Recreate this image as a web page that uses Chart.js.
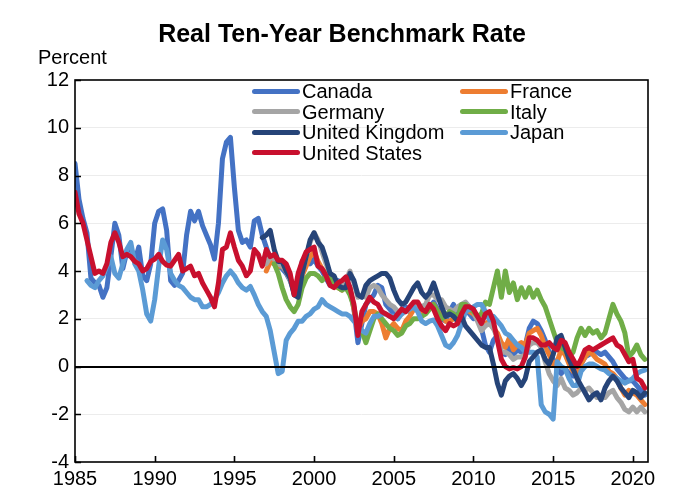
<!DOCTYPE html>
<html>
<head>
<meta charset="utf-8">
<script src="https://cdn.jsdelivr.net/npm/chart.js@4.4.0/dist/chart.umd.min.js"></script>
<style>
  html, body { margin: 0; padding: 0; background: #fff; }
  #wrap { position: relative; width: 697px; height: 489px; font-family: "Liberation Sans", Arial, sans-serif; color: #000; }
  #chart { position: absolute; left: 0; top: 0; }
  #title { position: absolute; left: 0; width: 684px; top: 19px; text-align: center; font-weight: bold; font-size: 25px; line-height: 28px; }
  #unit { position: absolute; left: 38px; top: 46px; font-size: 20px; line-height: 22px; }
  .lg-line { position: absolute; width: 48px; height: 5px; border-radius: 2.5px; }
  .lg-text { position: absolute; font-size: 20px; line-height: 20px; white-space: nowrap; }
</style>
</head>
<body>
<div id="wrap">
  <canvas id="chart" width="697" height="489"></canvas>
  <div id="title">Real Ten-Year Benchmark Rate</div>
  <div id="unit">Percent</div>
  <div id="legend"></div>
</div>
<script>
// ---- Data (quarterly readings, percent) ----
const seriesNames = ["Canada", "France", "Germany", "Italy", "United Kingdom", "Japan", "United States"];
const seriesStart = [1985.0, 1997.0, 1997.0, 1997.5, 1996.75, 1985.75, 1985.0];

const canada = [
  8.5, 7.0, 6.2, 5.6,   3.7, 3.5, 3.4, 2.9,   3.3, 4.6, 6.0, 5.5,   4.1, 4.8, 5.0, 4.4,
  5.0, 3.8, 3.6, 4.3,   6.0, 6.5, 6.6, 5.7,   3.6, 3.4, 3.6, 3.9,   5.5, 6.5, 6.1, 6.5,
  5.9, 5.5, 5.1, 4.5,   6.0, 8.7, 9.4, 9.6,   7.5, 5.7, 5.2, 5.3,   5.0, 6.1, 6.2, 5.5,
  5.0, 4.5, 4.3, 4.2,   4.1, 3.9, 3.6, 3.1,   3.6, 4.4, 4.6, 4.3,   4.5, 4.2, 4.0, 3.7,
  3.4, 3.5, 3.6, 3.5,   3.7, 3.3, 2.4, 1.0,   1.8, 2.6, 2.8, 3.0,   3.4, 3.3, 2.6, 2.4,
  2.2, 2.0, 2.3, 2.5,   2.3, 2.6, 2.4, 2.2,   2.3, 2.5, 2.7, 2.4,   2.0, 1.9, 2.3, 2.6,
  2.0, 2.4, 2.6, 2.2,   2.0, 2.1, 1.6, 0.9,   0.6, 1.1, 1.3, 0.6,   0.5, 0.8, 0.5, 0.7,
  0.6, 0.9, 1.6, 1.9,   1.8, 1.5, 1.1, 0.6,   0.3, -0.1, -0.3, -0.1, -0.3, -0.4, -0.1, 0.1,
  0.4, 0.5, 0.7, 0.6,   0.5, 0.6, 0.4, 0.2,   -0.1, -0.3, -0.5, -0.6, -0.6, -0.8, -1.0, -1.2
];
const france = [
  4.0, 4.4, 4.3, 4.2,   4.2, 4.0, 3.7, 3.3,   3.3, 3.8, 4.2, 4.6,   4.8, 4.4, 4.1, 3.9,
  3.6, 3.5, 3.3, 3.2,   3.4, 3.3, 2.4, 1.5,   1.9, 2.0, 2.3, 2.3,   2.2, 1.8, 1.2, 1.6,
  1.8, 1.6, 1.5, 1.9,   2.1, 2.4, 2.4, 2.2,   2.3, 2.5, 2.6, 2.3,   2.2, 1.9, 1.9, 2.0,
  2.0, 2.3, 2.4, 2.3,   2.2, 2.0, 1.8, 1.8,   1.9, 1.6, 1.4, 1.0,   0.8, 1.2, 0.7, 0.9,
  1.0, 0.9, 1.4, 1.5,   1.6, 1.3, 0.8, 0.5,   0.1, 0.2, 0.7, 0.5,   0.1, -0.2, -0.3, 0.1,
  0.4, 0.6, 0.5, 0.3,   0.2, 0.1, -0.2, -0.3, -0.5, -0.9, -1.2, -1.0, -1.1, -1.2, -1.4, -1.6
];
const germany = [
  4.3, 4.6, 4.5, 4.3,   4.2, 4.0, 3.6, 3.2,   3.1, 3.9, 4.6, 5.2,   5.6, 5.3, 4.8, 4.3,
  3.9, 3.7, 3.5, 3.4,   3.6, 4.0, 3.5, 2.9,   3.0, 2.9, 3.3, 3.4,   3.3, 3.0, 2.8, 2.6,
  2.5, 2.3, 2.2, 2.3,   2.4, 2.6, 2.6, 2.5,   2.6, 3.0, 3.0, 2.8,   2.8, 2.5, 2.4, 2.3,
  2.5, 2.6, 2.7, 2.5,   2.3, 1.9, 1.5, 1.7,   1.8, 1.6, 1.2, 0.6,   0.6, 0.5, 0.3, 0.4,
  0.4, 0.5, 0.9, 1.0,   1.0, 0.8, 0.2, -0.3,  -0.6, -0.8, -0.5, -0.9, -1.0, -1.2, -1.1, -0.9,
  -1.0, -0.9, -1.1, -1.3, -1.2, -1.3, -1.1, -1.0, -1.3, -1.5, -1.8, -1.9, -1.7, -1.9, -1.7, -1.9
];
const italy = [
  4.3, 3.9,             3.3, 2.8, 2.5, 2.3,   2.6, 3.3, 3.7, 3.9,   3.9, 3.8, 3.6, 3.8,
  3.7, 3.5, 3.3, 3.2,   3.3, 3.0, 2.5, 1.6,   1.5, 1.0, 1.5, 2.0,   2.2, 2.0, 1.8, 1.6,
  1.5, 1.3, 1.4, 1.7,   1.8, 2.0, 2.0, 2.1,   2.2, 2.4, 2.6, 2.3,   2.0, 2.1, 2.3, 2.2,
  2.0, 2.6, 2.6, 2.4,   2.3, 2.1, 2.2, 2.7,   2.6, 3.3, 4.0, 2.9,   4.0, 3.1, 3.5, 2.8,
  3.3, 2.9, 3.3, 2.9,   3.2, 2.8, 2.5, 2.0,   1.5, 1.0, 0.8, 0.7,   0.4, 0.6, 1.2, 1.6,
  1.3, 1.6, 1.4, 1.5,   1.2, 1.4, 2.0, 2.6,   2.2, 1.9, 1.4, 0.4,   0.6, 0.9, 0.5, 0.3
];
const unitedKingdom = [
  5.4,
  5.5, 5.7, 4.9, 4.4,   4.4, 4.0, 3.7, 3.0,   2.9, 3.9, 4.6, 5.3,   5.6, 5.2, 5.0, 4.5,
  3.9, 3.8, 3.4, 3.3,   3.3, 3.9, 3.6, 3.0,   2.9, 3.4, 3.6, 3.7,   3.8, 3.9, 3.9, 3.7,
  3.2, 2.8, 2.6, 2.7,   3.0, 3.3, 3.5, 3.1,   2.9, 3.1, 3.5, 3.0,   2.5, 2.1, 2.2, 2.1,
  1.9, 2.1, 1.7, 1.5,   1.3, 1.1, 0.9, 0.8,   0.8, 0.1, -0.7, -1.2, -0.6, -0.4, -0.3, -0.5,
  -0.8, -0.5, 0.2, 0.4, 0.6, 0.7, 0.3, 0.1,   0.5, 1.2, 1.3, 0.8,   0.3, -0.1, -0.5, -0.8,
  -1.1, -1.4, -1.2, -1.1, -1.4, -0.9, -0.6, -0.4, -0.6, -0.9, -1.1, -1.3, -1.0, -1.1, -1.3, -1.1
];
const japan = [
  3.6,
  3.4, 3.3, 3.6, 3.8,   4.2, 4.6, 3.9, 3.7,   4.3, 4.9, 5.2, 4.3,   4.0, 3.2, 2.2, 1.9,
  2.8, 4.2, 5.3, 4.9,   3.9, 3.6, 3.4, 3.3,   3.1, 2.9, 2.8, 2.8,   2.5, 2.5, 2.6, 2.8,
  3.1, 3.5, 3.8, 4.0,   3.8, 3.5, 3.3, 3.2,   3.35, 3.0, 2.6, 2.3,  2.1, 1.5, 0.6, -0.3,
  -0.2, 1.1, 1.4, 1.6,  1.9, 1.9, 2.1, 2.2,   2.4, 2.5, 2.8, 2.6,   2.5, 2.4, 2.3, 2.2,
  2.2, 2.1, 1.9, 1.7,   1.5, 1.4, 1.8, 2.1,   2.1, 2.2, 2.2, 2.1,   2.1, 2.0, 2.2, 2.4,
  2.4, 2.5, 2.3, 1.9,   1.8, 1.9, 1.95, 1.7,  1.3, 0.9, 0.8, 1.0,   1.3, 1.8, 2.3, 2.4,
  2.5, 2.6, 2.6, 2.3,   1.95, 2.1, 1.9, 1.7,  1.4, 1.3, 1.1, 0.9,   0.8, 0.6, 0.6, 0.6,
  0.4, -1.6, -1.9, -2.0, -2.2, 0.2, 0.0, -0.1, -0.5, -0.8, -0.8, -0.2, 0.0, 0.1, 0.1, 0.0,
  -0.1, -0.15, -0.3, -0.4, -0.5, -0.6, -0.7, -0.6, -0.5, -0.3, -0.2, -0.15
];
const unitedStates = [
  7.3, 6.4, 6.0, 5.3,   4.6, 3.9, 4.0, 3.9,   4.3, 5.2, 5.6, 5.2,   4.6, 4.7, 4.6, 4.4,
  4.3, 4.0, 4.1, 4.4,   4.5, 4.7, 4.4, 4.25,  4.2, 4.45, 4.7, 4.0,  4.1, 4.2, 3.8, 3.9,
  3.5, 3.2, 2.9, 2.5,   3.5, 4.9, 5.0, 5.6,   5.0, 4.45, 4.2, 3.8,  4.0, 4.9, 4.7, 4.2,
  4.9, 4.6, 4.7, 4.45,  4.45, 4.3, 3.9, 3.0,  3.9, 4.4, 4.8, 4.9,   5.0, 4.2, 4.1, 3.8,
  3.4, 3.3, 3.5, 3.6,   3.75, 3.3, 2.6, 1.3,  2.3, 2.6, 2.9, 2.7,   2.6, 2.3, 2.2, 2.1,
  2.0, 2.2, 2.4, 2.3,   2.5, 2.7, 2.7, 2.4,   2.3, 2.6, 2.4, 2.0,   1.7, 1.5, 1.8, 1.7,
  1.8, 2.2, 2.5, 2.5,   2.4, 2.1, 1.8, 2.2,   2.3, 1.9, 1.1, 0.3,   0.0, -0.1, -0.05, -0.1,
  0.0, 0.4, 1.2, 1.2,   1.1, 0.9, 0.9, 1.0,   0.8, 0.7, 1.1, 1.0,   0.6, 0.3, 0.0, 0.3,
  0.7, 0.8, 0.7, 0.8,   0.9, 1.0, 1.1, 1.2,   0.9, 0.8, 0.5, 0.2,   0.3, -0.5, -0.6, -0.9
];

const seriesValues = [canada, france, germany, italy, unitedKingdom, japan, unitedStates];
const seriesColors = ["#4472C4", "#ED7D31", "#A5A5A5", "#70AD47", "#264478", "#5B9BD5", "#C8102E"];
const drawOrder   = [6, 5, 4, 3, 1, 2, 0];   // lower = drawn on top

const xTicks = [1985, 1990, 1995, 2000, 2005, 2010, 2015, 2020];
const yTicks = [-4, -2, 0, 2, 4, 6, 8, 10, 12];

// ---- Build datasets ----
const datasets = seriesNames.map((name, k) => ({
  label: name,
  data: seriesValues[k].map((v, i) => ({ x: seriesStart[k] + i * 0.25, y: v })),
  borderColor: seriesColors[k],
  backgroundColor: seriesColors[k],
  borderWidth: 5,
  pointRadius: 0,
  tension: 0,
  fill: false,
  borderJoinStyle: "round",
  borderCapStyle: "round",
  order: drawOrder[k]
}));

// ---- Frame, inside ticks and zero line ----
const framePlugin = {
  id: "frame",
  afterDatasetsDraw(chart) {
    const { ctx, chartArea: a, scales: { x, y } } = chart;
    ctx.save();
    ctx.strokeStyle = "#000";
    ctx.lineWidth = 2;
    const y0 = Math.round(y.getPixelForValue(0));
    ctx.beginPath(); ctx.moveTo(a.left, y0); ctx.lineTo(a.right, y0); ctx.stroke();
    ctx.lineWidth = 1.6;
    ctx.strokeRect(a.left, a.top, a.right - a.left, a.bottom - a.top);
    ctx.beginPath();
    xTicks.forEach(v => {
      const px = Math.round(x.getPixelForValue(v)) + 0.5;
      ctx.moveTo(px, a.bottom); ctx.lineTo(px, a.bottom - 6);
    });
    yTicks.forEach(v => {
      const py = Math.round(y.getPixelForValue(v)) + 0.5;
      ctx.moveTo(a.left, py); ctx.lineTo(a.left + 6, py);
    });
    ctx.stroke();
    ctx.restore();
  }
};

const FONT = "'Liberation Sans', Arial, sans-serif";

new Chart(document.getElementById("chart"), {
  type: "line",
  data: { datasets },
  options: {
    responsive: false,
    animation: false,
    devicePixelRatio: 1,
    layout: { padding: { top: 80, right: 49, bottom: 0, left: 0 } },
    plugins: { legend: { display: false }, tooltip: { enabled: false }, title: { display: false } },
    scales: {
      x: {
        type: "linear",
        min: 1985, max: 2020.95,
        afterBuildTicks: s => { s.ticks = xTicks.map(v => ({ value: v })); },
        afterFit: s => { s.height = 27; },
        ticks: { callback: v => String(v), font: { family: FONT, size: 20 }, color: "#000", padding: 5, maxRotation: 0, autoSkip: false },
        grid: { display: false, drawTicks: false },
        border: { display: false }
      },
      y: {
        type: "linear",
        min: -4, max: 12,
        afterBuildTicks: s => { s.ticks = yTicks.map(v => ({ value: v })); },
        afterFit: s => { s.width = 75; },
        ticks: { callback: v => String(v), font: { family: FONT, size: 20 }, color: "#000", padding: 6 },
        grid: { drawTicks: false, color: c => (c.tick && (c.tick.value === 0 || c.tick.value === 12 || c.tick.value === -4)) ? "rgba(0,0,0,0)" : "#ECECEC", lineWidth: 1 },
        border: { display: false }
      }
    }
  },
  plugins: [framePlugin]
});

// ---- Legend (two columns, row-major) ----
const legend = document.getElementById("legend");
seriesNames.forEach((name, k) => {
  const col = k % 2, row = Math.floor(k / 2);
  const lineX = col === 0 ? 252 : 460;
  const cy = 91 + row * 20.6;
  const ln = document.createElement("div");
  ln.className = "lg-line";
  ln.style.left = lineX + "px";
  ln.style.top = (cy - 2.5) + "px";
  ln.style.background = seriesColors[k];
  legend.appendChild(ln);
  const tx = document.createElement("div");
  tx.className = "lg-text";
  tx.style.left = (lineX + 50) + "px";
  tx.style.top = (cy - 10) + "px";
  tx.textContent = name;
  legend.appendChild(tx);
});
</script>
</body>
</html>
